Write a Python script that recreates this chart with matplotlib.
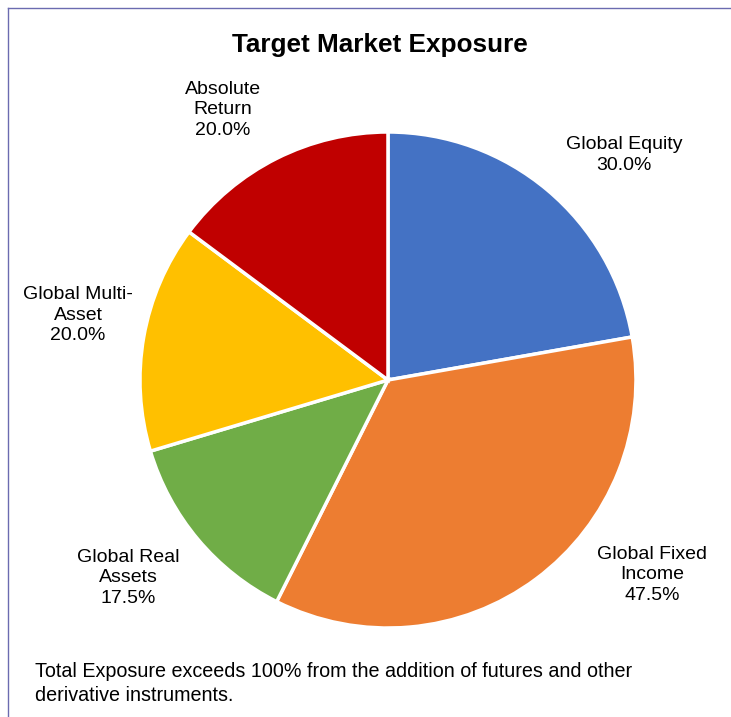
import matplotlib.pyplot as plt
from matplotlib.lines import Line2D

plt.rcParams['font.family'] = ['Liberation Sans', 'DejaVu Sans']

categories = ["Global Equity", "Global Fixed\nIncome", "Global Real\nAssets",
              "Global Multi-\nAsset", "Absolute\nReturn"]
exposure = [30.0, 47.5, 17.5, 20.0, 20.0]
colors = ["#4472C4", "#ED7D31", "#70AD47", "#FFC000", "#C00000"]

# label anchor positions in pie data units (radius = 1)
label_xy = [(0.952, 0.907), (1.065, -0.786), (-1.048, -0.798),
            (-1.25, 0.262), (-0.665, 1.089)]

fig = plt.figure(figsize=(7.31, 7.17), dpi=100)
ax = fig.add_axes([0.1915, 0.1241, 0.6785, 0.6918])
ax.pie(exposure, colors=colors, startangle=90, counterclock=False,
       wedgeprops=dict(edgecolor="white", linewidth=2.5), radius=1.0)
ax.set_xlim(-1, 1)
ax.set_ylim(-1, 1)
ax.set_aspect("auto")

for name, val, (x, y) in zip(categories, exposure, label_xy):
    ax.text(x, y, f"{name}\n{val:.1f}%", ha="center", va="center",
            fontsize=14, linespacing=1.3, clip_on=False)

fig.text(0.52, 0.937, "Target Market Exposure", ha="center", va="center",
         fontsize=18.8, fontweight="bold")
fig.text(0.048, 0.047, "Total Exposure exceeds 100% from the addition of futures and other\nderivative instruments.",
         ha="left", va="center", fontsize=14.2, linespacing=1.3)

# partial chart frame
fig.add_artist(Line2D([8 / 731, 8 / 731], [0, 1 - 8 / 717], transform=fig.transFigure,
                      color="#6B6BB0", linewidth=1))
fig.add_artist(Line2D([8 / 731, 1], [1 - 8 / 717, 1 - 8 / 717], transform=fig.transFigure,
                      color="#6B6BB0", linewidth=1))

fig.savefig("out.png", dpi=100)
